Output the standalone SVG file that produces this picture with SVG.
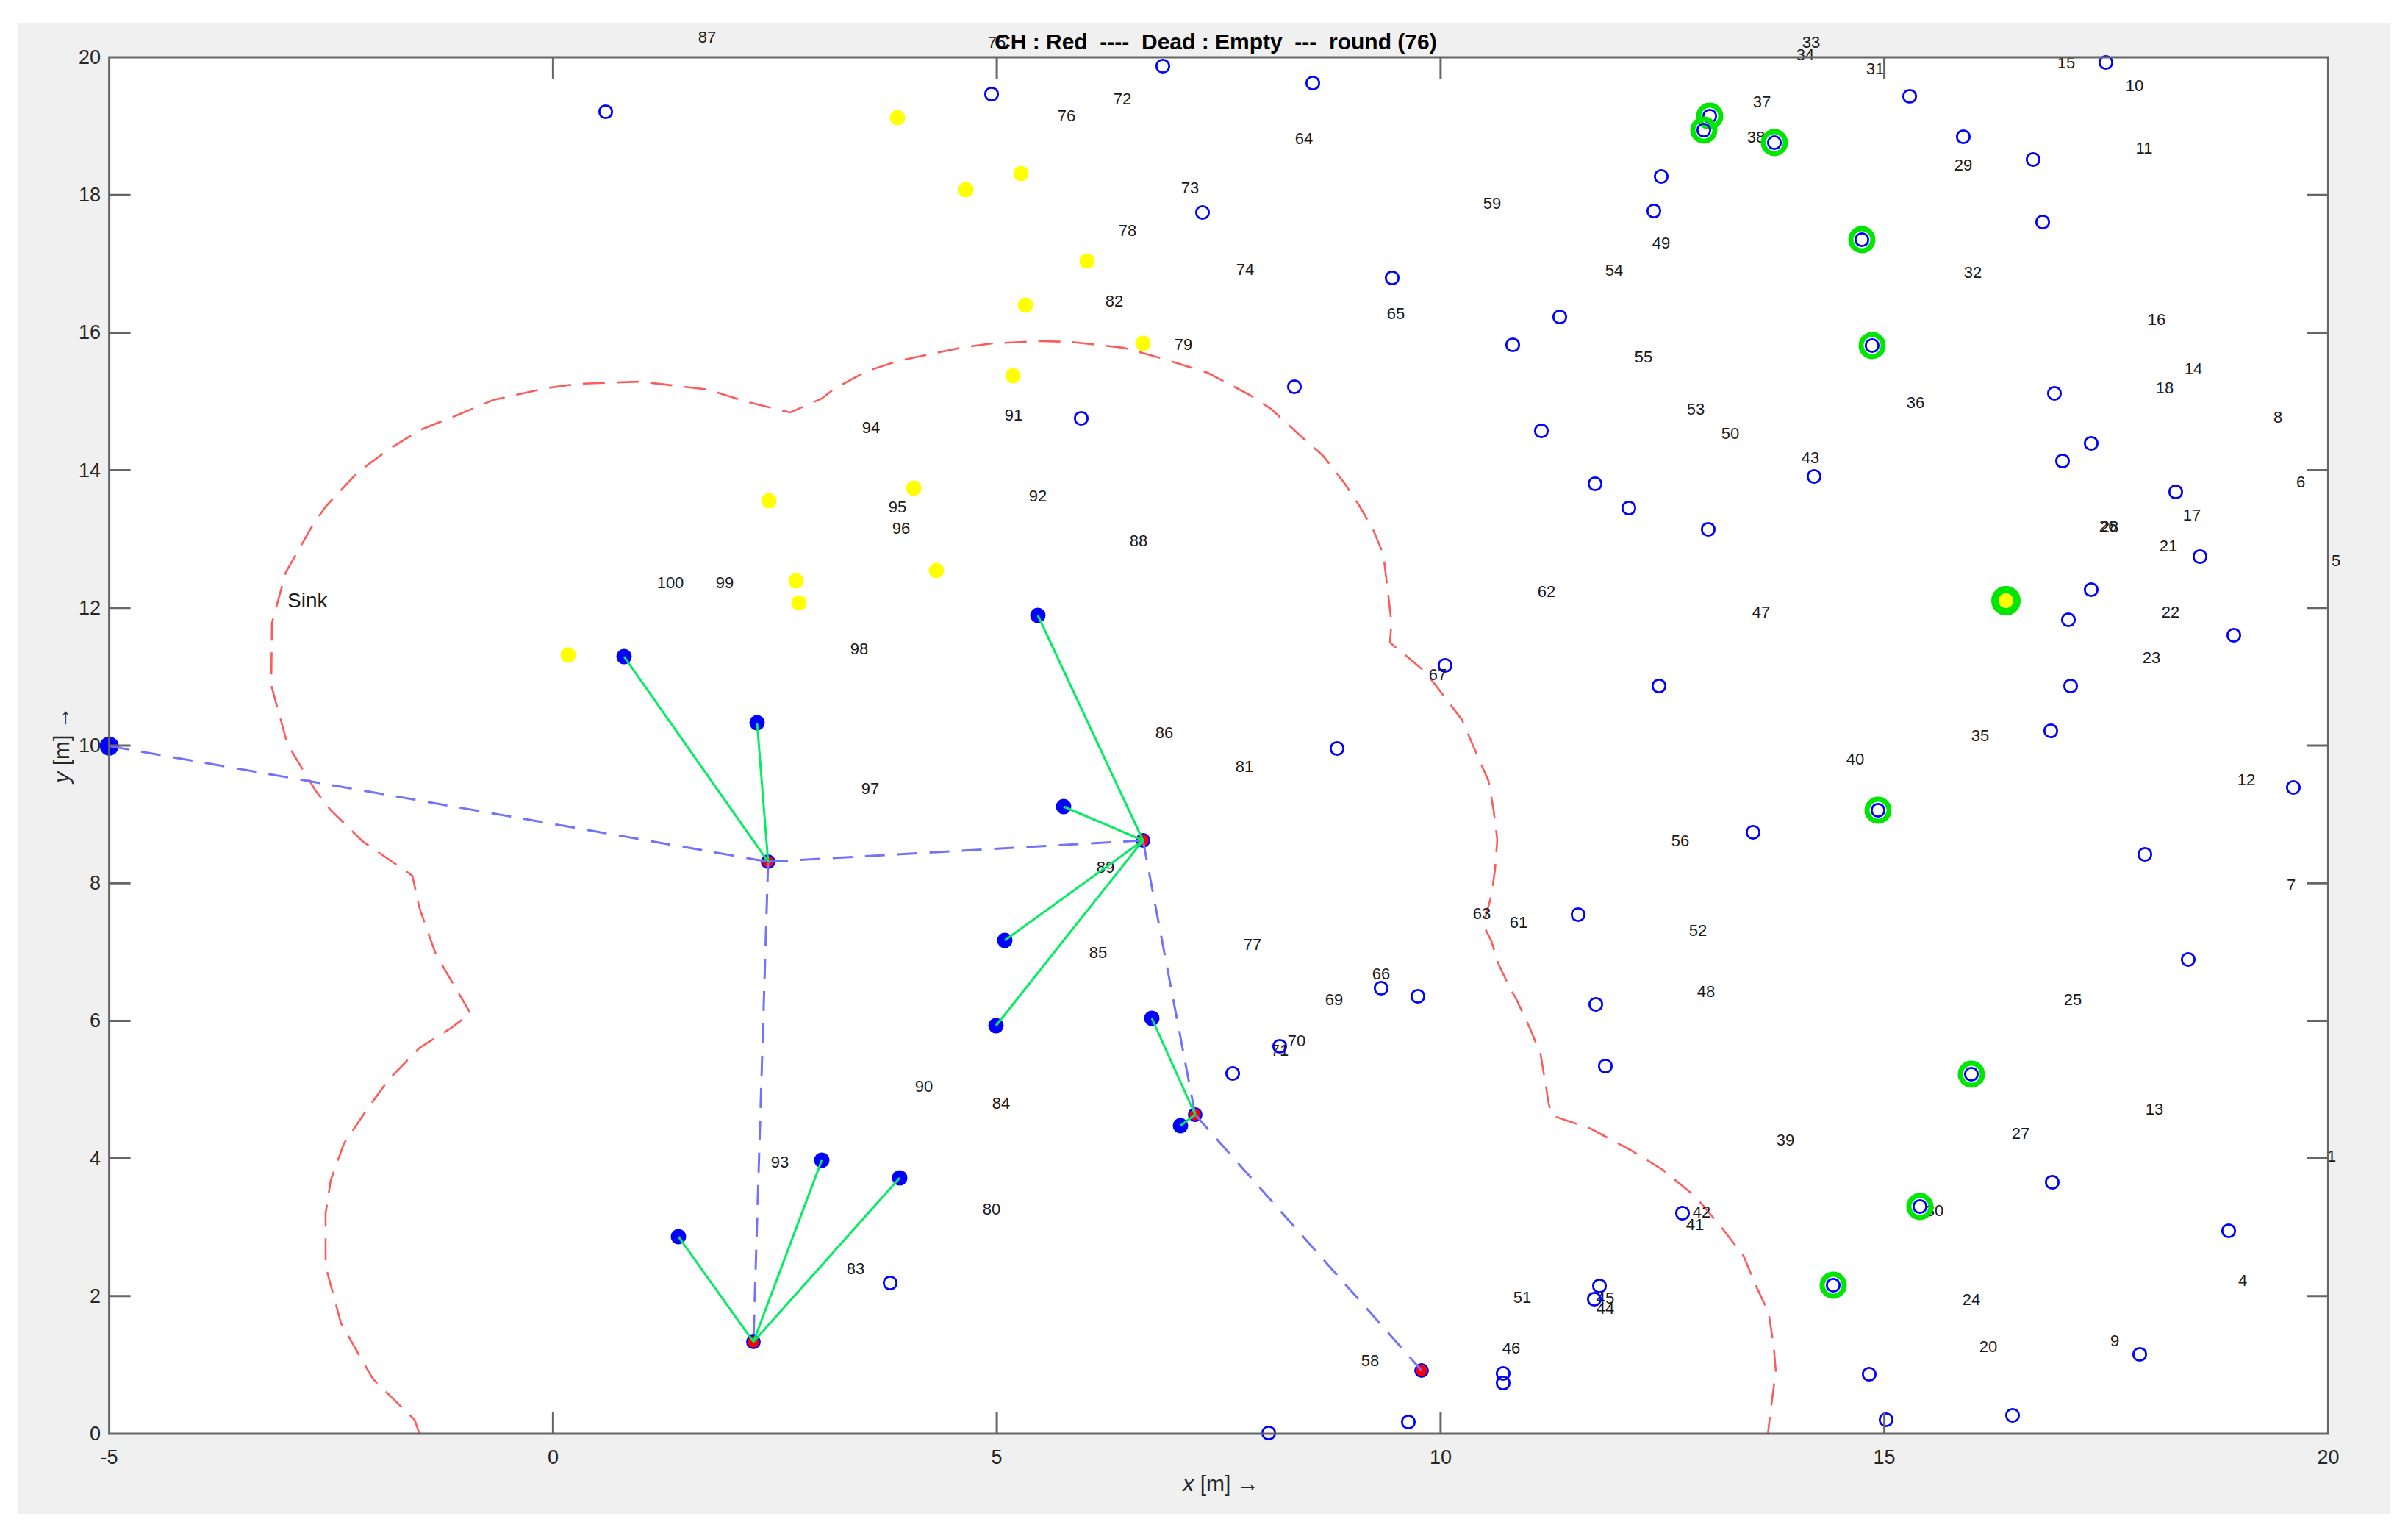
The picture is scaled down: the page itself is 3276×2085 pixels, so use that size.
<svg xmlns="http://www.w3.org/2000/svg" width="3276" height="2085" viewBox="0 0 3276 2085">
<defs>
<style>
.lb{font-family:"Liberation Sans",Arial,sans-serif;font-size:22px;fill:#1a1a1a;text-anchor:middle;dominant-baseline:central}
.tk{font-family:"Liberation Sans",Arial,sans-serif;font-size:27px;fill:#262626;dominant-baseline:central}
.h{fill:none;stroke:#0000ff;stroke-width:2.8}
.g{fill:none;stroke:#00e600;stroke-width:7}
.f{fill:#0000ff}
.y{fill:#ffff00}
.ch{fill:#ff0000;stroke:#0000ff;stroke-width:2.3}
.route{stroke:#7272ff;stroke-width:3;fill:none;stroke-dasharray:27 17}
.link{stroke:#00ee60;stroke-width:3;fill:none}
.cov{stroke:#ff5a5a;stroke-width:2.6;fill:none;stroke-dasharray:30 16}
.ax{stroke:#666;stroke-width:3;fill:none}
</style>
<clipPath id="figclip"><rect x="25" y="31" width="3227" height="2028"/></clipPath>
</defs>
<rect x="0" y="0" width="3276" height="2085" fill="#ffffff"/>
<rect x="25" y="31" width="3227" height="2028" fill="#f0f0f0"/>
<rect x="148.6" y="78" width="3018.8" height="1872" fill="#ffffff"/>

<g id="coverage-contour">
<path class="cov" d="M571,1951 L564,1931 L507,1875 L464,1800 L443,1722 L443,1650 L450,1605 L468,1555 L500,1508 L529,1468 L571,1425 L614,1398 L640,1378 L593,1298 L571,1236 L561,1191 L493,1144 L450,1102 L429,1075 L391,1012 L369,932 L370,847 L389,778 L425,715 L443,689 L486,643 L529,611 L571,585 L621,565 L671,544 L743,528 L786,522 L871,519 L964,530 L1014,546 L1075,561 L1118,542 L1136,528 L1179,505 L1221,491 L1307,473 L1350,467 L1414,464 L1457,465 L1529,473 L1586,489 L1643,507 L1700,537 L1729,556 L1764,588 L1800,620 L1829,657 L1850,689 L1868,720 L1882,754 L1889,812 L1893,847 L1891,874 L1918,896 L1939,914 L1957,937 L1989,979 L2007,1021 L2025,1062 L2032,1102 L2037,1142 L2034,1182 L2029,1218 L2018,1258 L2029,1280 L2039,1312 L2054,1343 L2064,1361 L2082,1400 L2096,1434 L2107,1501 L2111,1517 L2164,1535 L2218,1564 L2241,1578 L2262,1591 L2306,1627 L2341,1668 L2372,1708 L2389,1749 L2406,1785 L2413,1830 L2416,1866 L2411,1902 L2405,1951"/>
</g>

<g id="labels">
<g clip-path="url(#figclip)">
<text class="lb" x="1489" y="20">68</text>
<text class="lb" x="2737" y="20">19</text>
</g>
<text class="lb" x="962" y="50">87</text>
<text class="lb" x="1356" y="57">75</text>
<text class="lb" x="1527" y="134">72</text>
<text class="lb" x="1451" y="157">76</text>
<text class="lb" x="1774" y="188">64</text>
<text class="lb" x="1619" y="255">73</text>
<text class="lb" x="2030" y="276">59</text>
<text class="lb" x="1534" y="313">78</text>
<text class="lb" x="1694" y="366">74</text>
<text class="lb" x="2196" y="367">54</text>
<text class="lb" x="1516" y="409">82</text>
<text class="lb" x="1899" y="426">65</text>
<text class="lb" x="1610" y="468">79</text>
<text class="lb" x="1379" y="564">91</text>
<text class="lb" x="1185" y="581">94</text>
<text class="lb" x="1412" y="674">92</text>
<text class="lb" x="1221" y="689">95</text>
<text class="lb" x="1226" y="718">96</text>
<text class="lb" x="2464" y="57">33</text>
<text class="lb" x="2456" y="74">34</text>
<text class="lb" x="2551" y="93">31</text>
<text class="lb" x="2811" y="85">15</text>
<text class="lb" x="2904" y="116">10</text>
<text class="lb" x="2397" y="138">37</text>
<text class="lb" x="2389" y="186">38</text>
<text class="lb" x="2917" y="201">11</text>
<text class="lb" x="2671" y="224">29</text>
<text class="lb" x="2260" y="330">49</text>
<text class="lb" x="2684" y="370">32</text>
<text class="lb" x="2934" y="434">16</text>
<text class="lb" x="2236" y="485">55</text>
<text class="lb" x="2984" y="501">14</text>
<text class="lb" x="2945" y="527">18</text>
<text class="lb" x="2606" y="547">36</text>
<text class="lb" x="2307" y="556">53</text>
<text class="lb" x="3099" y="567">8</text>
<text class="lb" x="2354" y="589">50</text>
<text class="lb" x="2463" y="622">43</text>
<text class="lb" x="3130" y="655">6</text>
<text class="lb" x="2982" y="700">17</text>
<text class="lb" x="2868" y="715">26</text>
<text class="lb" x="2870" y="716">28</text>
<text class="lb" x="912" y="792">100</text>
<text class="lb" x="986" y="792">99</text>
<text class="lb" x="1549" y="735">88</text>
<text class="lb" x="2104" y="804">62</text>
<text class="lb" x="1169" y="882">98</text>
<text class="lb" x="1956" y="917">67</text>
<text class="lb" x="1584" y="996">86</text>
<text class="lb" x="1693" y="1042">81</text>
<text class="lb" x="1184" y="1072">97</text>
<text class="lb" x="1504" y="1179">89</text>
<text class="lb" x="2016" y="1242">63</text>
<text class="lb" x="2066" y="1254">61</text>
<text class="lb" x="1494" y="1295">85</text>
<text class="lb" x="1704" y="1284">77</text>
<text class="lb" x="1879" y="1324">66</text>
<text class="lb" x="1815" y="1359">69</text>
<text class="lb" x="2950" y="742">21</text>
<text class="lb" x="3178" y="762">5</text>
<text class="lb" x="2396" y="832">47</text>
<text class="lb" x="2953" y="832">22</text>
<text class="lb" x="2927" y="894">23</text>
<text class="lb" x="2694" y="1000">35</text>
<text class="lb" x="2524" y="1032">40</text>
<text class="lb" x="3056" y="1060">12</text>
<text class="lb" x="2286" y="1143">56</text>
<text class="lb" x="3117" y="1203">7</text>
<text class="lb" x="2310" y="1265">52</text>
<text class="lb" x="2321" y="1348">48</text>
<text class="lb" x="2820" y="1359">25</text>
<text class="lb" x="1764" y="1415">70</text>
<text class="lb" x="1741" y="1428">71</text>
<text class="lb" x="1257" y="1477">90</text>
<text class="lb" x="1362" y="1500">84</text>
<text class="lb" x="1061" y="1580">93</text>
<text class="lb" x="1349" y="1644">80</text>
<text class="lb" x="1164" y="1725">83</text>
<text class="lb" x="2071" y="1764">51</text>
<text class="lb" x="2184" y="1765">45</text>
<text class="lb" x="2184" y="1779">44</text>
<text class="lb" x="2056" y="1833">46</text>
<text class="lb" x="1864" y="1850">58</text>
<text class="lb" x="2931" y="1508">13</text>
<text class="lb" x="2749" y="1541">27</text>
<text class="lb" x="2429" y="1550">39</text>
<text class="lb" x="3172" y="1572">1</text>
<text class="lb" x="2315" y="1648">42</text>
<text class="lb" x="2306" y="1665">41</text>
<text class="lb" x="2632" y="1646">30</text>
<text class="lb" x="3051" y="1741">4</text>
<text class="lb" x="2682" y="1767">24</text>
<text class="lb" x="2877" y="1823">9</text>
<text class="lb" x="2705" y="1831">20</text>
<text x="391" y="826" font-family="Liberation Sans, Arial, sans-serif" font-size="28" fill="#1a1a1a">Sink</text>
</g>

<g id="nodes">
<g id="sink"><circle class="f" cx="148.6" cy="1014.7" r="13"/></g>
<g id="ch-1"><circle class="ch" cx="1045" cy="1172" r="8.8"/></g>
<g id="ch-2"><circle class="ch" cx="1555" cy="1143" r="8.8"/></g>
<g id="ch-3"><circle class="ch" cx="1025" cy="1825" r="8.8"/></g>
<g id="ch-4"><circle class="ch" cx="1626" cy="1516" r="8.8"/></g>
<g id="ch-5"><circle class="ch" cx="1934" cy="1864" r="8.8"/></g>
<g id="m-1"><circle class="f" cx="849" cy="893" r="10.5"/></g>
<g id="m-2"><circle class="f" cx="1030" cy="983" r="10.5"/></g>
<g id="m-3"><circle class="f" cx="1412" cy="837" r="10.5"/></g>
<g id="m-4"><circle class="f" cx="1447" cy="1097" r="10.5"/></g>
<g id="m-5"><circle class="f" cx="1367" cy="1279" r="10.5"/></g>
<g id="m-6"><circle class="f" cx="1355" cy="1395" r="10.5"/></g>
<g id="m-7"><circle class="f" cx="1567" cy="1385" r="10.5"/></g>
<g id="m-8"><circle class="f" cx="1606" cy="1531" r="10.5"/></g>
<g id="m-9"><circle class="f" cx="923" cy="1682" r="10.5"/></g>
<g id="m-10"><circle class="f" cx="1118" cy="1578" r="10.5"/></g>
<g id="m-11"><circle class="f" cx="1224" cy="1602" r="10.5"/></g>
<g id="y-1"><circle class="y" cx="1221" cy="160" r="10.5"/></g>
<g id="y-2"><circle class="y" cx="1389" cy="236" r="10.5"/></g>
<g id="y-3"><circle class="y" cx="1314" cy="258" r="10.5"/></g>
<g id="y-4"><circle class="y" cx="1479" cy="355" r="10.5"/></g>
<g id="y-5"><circle class="y" cx="1395" cy="415" r="10.5"/></g>
<g id="y-6"><circle class="y" cx="1555" cy="467" r="10.5"/></g>
<g id="y-7"><circle class="y" cx="1378" cy="511" r="10.5"/></g>
<g id="y-8"><circle class="y" cx="1243" cy="664" r="10.5"/></g>
<g id="y-9"><circle class="y" cx="1046" cy="681" r="10.5"/></g>
<g id="y-10"><circle class="y" cx="1274" cy="776" r="10.5"/></g>
<g id="y-11"><circle class="y" cx="1083" cy="790" r="10.5"/></g>
<g id="y-12"><circle class="y" cx="1087" cy="820" r="10.5"/></g>
<g id="y-13"><circle class="y" cx="773" cy="891" r="10.5"/></g>
<g id="gy-1"><circle cx="2729" cy="817" r="15" fill="none" stroke="#00e600" stroke-width="10"/><circle class="y" cx="2729" cy="817" r="10"/></g>
<g id="g-1"><circle class="g" cx="2326" cy="158" r="15"/><circle class="h" cx="2326" cy="158" r="8.7"/></g>
<g id="g-2"><circle class="g" cx="2318" cy="177" r="15"/><circle class="h" cx="2318" cy="177" r="8.7"/></g>
<g id="g-3"><circle class="g" cx="2414" cy="194" r="15"/><circle class="h" cx="2414" cy="194" r="8.7"/></g>
<g id="g-4"><circle class="g" cx="2533" cy="326" r="15"/><circle class="h" cx="2533" cy="326" r="8.7"/></g>
<g id="g-5"><circle class="g" cx="2547" cy="470" r="15"/><circle class="h" cx="2547" cy="470" r="8.7"/></g>
<g id="g-6"><circle class="g" cx="2555" cy="1102" r="15"/><circle class="h" cx="2555" cy="1102" r="8.7"/></g>
<g id="g-7"><circle class="g" cx="2682" cy="1461" r="15"/><circle class="h" cx="2682" cy="1461" r="8.7"/></g>
<g id="g-8"><circle class="g" cx="2612" cy="1641" r="15"/><circle class="h" cx="2612" cy="1641" r="8.7"/></g>
<g id="g-9"><circle class="g" cx="2494" cy="1748" r="15"/><circle class="h" cx="2494" cy="1748" r="8.7"/></g>
<g id="h-1"><circle class="h" cx="824" cy="152" r="8.7"/></g>
<g id="h-2"><circle class="h" cx="1582" cy="90" r="8.7"/></g>
<g id="h-3"><circle class="h" cx="1349" cy="128" r="8.7"/></g>
<g id="h-4"><circle class="h" cx="1786" cy="113" r="8.7"/></g>
<g id="h-5"><circle class="h" cx="1636" cy="289" r="8.7"/></g>
<g id="h-6"><circle class="h" cx="1894" cy="378" r="8.7"/></g>
<g id="h-7"><circle class="h" cx="2122" cy="431" r="8.7"/></g>
<g id="h-8"><circle class="h" cx="2058" cy="469" r="8.7"/></g>
<g id="h-9"><circle class="h" cx="1761" cy="526" r="8.7"/></g>
<g id="h-10"><circle class="h" cx="1471" cy="569" r="8.7"/></g>
<g id="h-11"><circle class="h" cx="2097" cy="586" r="8.7"/></g>
<g id="h-12"><circle class="h" cx="2170" cy="658" r="8.7"/></g>
<g id="h-13"><circle class="h" cx="2216" cy="691" r="8.7"/></g>
<g id="h-14"><circle class="h" cx="2865" cy="85" r="8.7"/></g>
<g id="h-15"><circle class="h" cx="2598" cy="131" r="8.7"/></g>
<g id="h-16"><circle class="h" cx="2671" cy="186" r="8.7"/></g>
<g id="h-17"><circle class="h" cx="2766" cy="217" r="8.7"/></g>
<g id="h-18"><circle class="h" cx="2260" cy="240" r="8.7"/></g>
<g id="h-19"><circle class="h" cx="2250" cy="287" r="8.7"/></g>
<g id="h-20"><circle class="h" cx="2779" cy="302" r="8.7"/></g>
<g id="h-21"><circle class="h" cx="2795" cy="535" r="8.7"/></g>
<g id="h-22"><circle class="h" cx="2845" cy="603" r="8.7"/></g>
<g id="h-23"><circle class="h" cx="2806" cy="627" r="8.7"/></g>
<g id="h-24"><circle class="h" cx="2468" cy="648" r="8.7"/></g>
<g id="h-25"><circle class="h" cx="2960" cy="669" r="8.7"/></g>
<g id="h-26"><circle class="h" cx="2324" cy="720" r="8.7"/></g>
<g id="h-27"><circle class="h" cx="2993" cy="757" r="8.7"/></g>
<g id="h-28"><circle class="h" cx="2845" cy="802" r="8.7"/></g>
<g id="h-29"><circle class="h" cx="2814" cy="843" r="8.7"/></g>
<g id="h-30"><circle class="h" cx="3039" cy="864" r="8.7"/></g>
<g id="h-31"><circle class="h" cx="2257" cy="933" r="8.7"/></g>
<g id="h-32"><circle class="h" cx="2817" cy="933" r="8.7"/></g>
<g id="h-33"><circle class="h" cx="2790" cy="994" r="8.7"/></g>
<g id="h-34"><circle class="h" cx="3120" cy="1071" r="8.7"/></g>
<g id="h-35"><circle class="h" cx="2385" cy="1132" r="8.7"/></g>
<g id="h-36"><circle class="h" cx="2918" cy="1162" r="8.7"/></g>
<g id="h-37"><circle class="h" cx="2977" cy="1305" r="8.7"/></g>
<g id="h-38"><circle class="h" cx="1966" cy="905" r="8.7"/></g>
<g id="h-39"><circle class="h" cx="1819" cy="1018" r="8.7"/></g>
<g id="h-40"><circle class="h" cx="2147" cy="1244" r="8.7"/></g>
<g id="h-41"><circle class="h" cx="1879" cy="1344" r="8.7"/></g>
<g id="h-42"><circle class="h" cx="1929" cy="1355" r="8.7"/></g>
<g id="h-43"><circle class="h" cx="2171" cy="1366" r="8.7"/></g>
<g id="h-44"><circle class="h" cx="1741" cy="1423" r="8.7"/></g>
<g id="h-45"><circle class="h" cx="1677" cy="1460" r="8.7"/></g>
<g id="h-46"><circle class="h" cx="2184" cy="1450" r="8.7"/></g>
<g id="h-47"><circle class="h" cx="1211" cy="1745" r="8.7"/></g>
<g id="h-48"><circle class="h" cx="2176" cy="1749" r="8.7"/></g>
<g id="h-49"><circle class="h" cx="2169" cy="1767" r="8.7"/></g>
<g id="h-50"><circle class="h" cx="2045" cy="1868" r="8.7"/></g>
<g id="h-51"><circle class="h" cx="2045" cy="1881" r="8.7"/></g>
<g id="h-52"><circle class="h" cx="1916" cy="1934" r="8.7"/></g>
<g id="h-53"><circle class="h" cx="1726" cy="1949" r="8.7"/></g>
<g id="h-54"><circle class="h" cx="2792" cy="1608" r="8.7"/></g>
<g id="h-55"><circle class="h" cx="2289" cy="1650" r="8.7"/></g>
<g id="h-56"><circle class="h" cx="3032" cy="1674" r="8.7"/></g>
<g id="h-57"><circle class="h" cx="2911" cy="1842" r="8.7"/></g>
<g id="h-58"><circle class="h" cx="2543" cy="1869" r="8.7"/></g>
<g id="h-59"><circle class="h" cx="2566" cy="1931" r="8.7"/></g>
<g id="h-60"><circle class="h" cx="2738" cy="1925" r="8.7"/></g>
</g>

<g id="connectors">
<line class="route" x1="148.6" y1="1014.7" x2="1045" y2="1172"/>
<line class="route" x1="1045" y1="1172" x2="1555" y2="1143"/>
<line class="route" x1="1045" y1="1172" x2="1025" y2="1825"/>
<line class="route" x1="1555" y1="1143" x2="1626" y2="1516"/>
<line class="route" x1="1626" y1="1516" x2="1934" y2="1864"/>
<line class="link" x1="1045" y1="1172" x2="849" y2="893"/>
<line class="link" x1="1045" y1="1172" x2="1030" y2="983"/>
<line class="link" x1="1555" y1="1143" x2="1412" y2="837"/>
<line class="link" x1="1555" y1="1143" x2="1447" y2="1097"/>
<line class="link" x1="1555" y1="1143" x2="1367" y2="1279"/>
<line class="link" x1="1555" y1="1143" x2="1355" y2="1395"/>
<line class="link" x1="1025" y1="1825" x2="923" y2="1682"/>
<line class="link" x1="1025" y1="1825" x2="1118" y2="1578"/>
<line class="link" x1="1025" y1="1825" x2="1224" y2="1602"/>
<line class="link" x1="1626" y1="1516" x2="1567" y2="1385"/>
<line class="link" x1="1626" y1="1516" x2="1606" y2="1531"/>
</g>

<g id="axes">
<rect class="ax" x="148.6" y="78" width="3018.8" height="1872"/>
<path class="ax" d="M752.4,78v29M1356.1,78v29M1959.9,78v29M2563.6,78v29M752.4,1950v-29M1356.1,1950v-29M1959.9,1950v-29M2563.6,1950v-29M148.6,1762.8h29M148.6,1575.6h29M148.6,1388.4h29M148.6,1201.2h29M148.6,1014h29M148.6,826.8h29M148.6,639.6h29M148.6,452.4h29M148.6,265.2h29M3167.4,1762.8h-29M3167.4,1575.6h-29M3167.4,1388.4h-29M3167.4,1201.2h-29M3167.4,1014h-29M3167.4,826.8h-29M3167.4,639.6h-29M3167.4,452.4h-29M3167.4,265.2h-29"/>
<g text-anchor="end">
<text class="tk" x="137" y="1950">0</text>
<text class="tk" x="137" y="1762.8">2</text>
<text class="tk" x="137" y="1575.6">4</text>
<text class="tk" x="137" y="1388.4">6</text>
<text class="tk" x="137" y="1201.2">8</text>
<text class="tk" x="137" y="1014">10</text>
<text class="tk" x="137" y="826.8">12</text>
<text class="tk" x="137" y="639.6">14</text>
<text class="tk" x="137" y="452.4">16</text>
<text class="tk" x="137" y="265.2">18</text>
<text class="tk" x="137" y="78">20</text>
</g>
<g text-anchor="middle">
<text class="tk" x="148.6" y="1982">-5</text>
<text class="tk" x="752.4" y="1982">0</text>
<text class="tk" x="1356.1" y="1982">5</text>
<text class="tk" x="1959.9" y="1982">10</text>
<text class="tk" x="2563.6" y="1982">15</text>
<text class="tk" x="3167.4" y="1982">20</text>
</g>
<text x="1661" y="2028" text-anchor="middle" font-family="Liberation Sans, Arial, sans-serif" font-size="30" fill="#262626"><tspan font-style="italic">x</tspan>  [m] →</text>
<text transform="translate(94,1013) rotate(-90)" text-anchor="middle" font-family="Liberation Sans, Arial, sans-serif" font-size="30" fill="#262626"><tspan font-style="italic">y</tspan>  [m] →</text>
<text x="1353" y="67" xml:space="preserve" font-family="Liberation Sans, Arial, sans-serif" font-size="30" font-weight="bold" fill="#000">CH : Red  ----  Dead : Empty  ---  round (76)</text>
</g>
</svg>
